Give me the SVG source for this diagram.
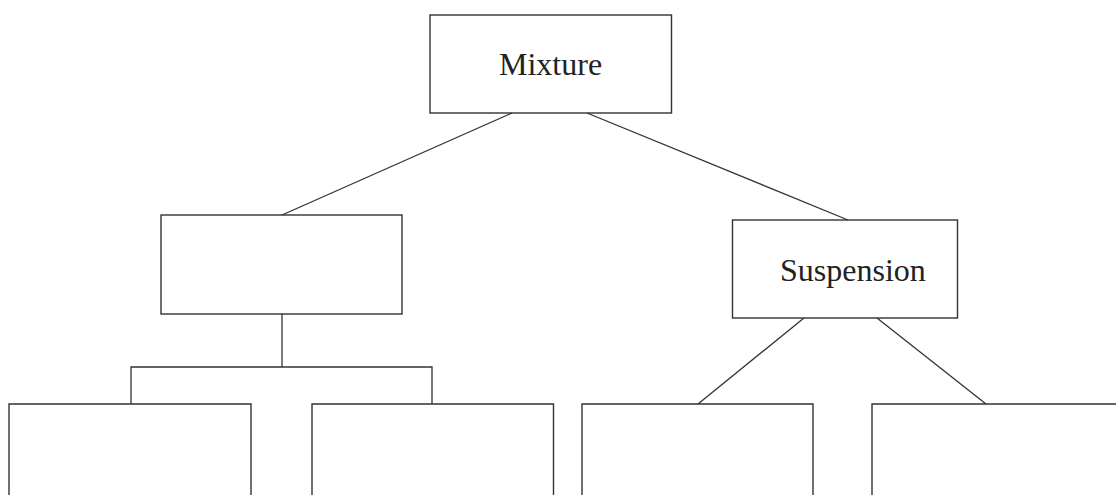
<svg xmlns="http://www.w3.org/2000/svg" width="1116" height="495" viewBox="0 0 1116 495">
<style>
.box{fill:none;stroke:#333;stroke-width:1.4}
.ln{fill:none;stroke:#333;stroke-width:1.3}
.lbl{font-family:"Liberation Serif","Times New Roman",serif;font-size:32px;fill:#222}
</style>
<rect width="1116" height="495" fill="#fff"/>
<g id="connectors">
<line class="ln" x1="512" y1="113" x2="282" y2="215"/>
<line class="ln" x1="587" y1="113" x2="848" y2="220"/>
<polyline class="ln" points="282,314 282,367"/>
<polyline class="ln" points="131,404 131,367 432,367 432,404"/>
<line class="ln" x1="804" y1="318" x2="698" y2="404"/>
<line class="ln" x1="877" y1="318" x2="986" y2="404"/>
</g>
<g id="mixture">
<rect class="box" x="430" y="15" width="241.5" height="98"/>
<text class="lbl" x="499" y="75">Mixture</text>
</g>
<g id="left-mid">
<rect class="box" x="161" y="215" width="241" height="99"/>
</g>
<g id="suspension">
<rect class="box" x="732.5" y="220" width="225" height="98"/>
<text class="lbl" x="780" y="281">Suspension</text>
</g>
<g id="b1"><polyline class="box" points="9,496 9,404 251,404 251,496"/></g>
<g id="b2"><polyline class="box" points="312,496 312,404 553.5,404 553.5,496"/></g>
<g id="b3"><polyline class="box" points="582,496 582,404 813,404 813,496"/></g>
<g id="b4"><polyline class="box" points="872,496 872,404 1117,404"/></g>
</svg>
